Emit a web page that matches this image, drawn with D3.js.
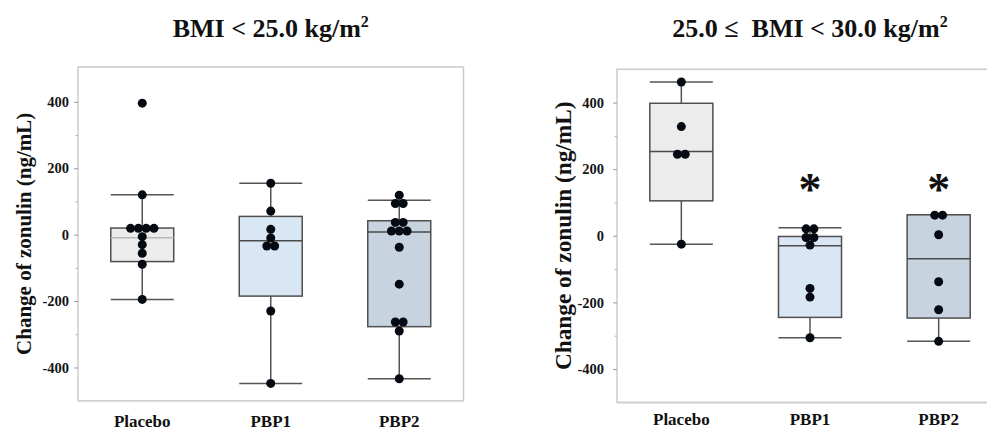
<!DOCTYPE html>
<html><head><meta charset="utf-8">
<script src="https://cdn.jsdelivr.net/npm/d3@7"></script>
<style>
body{margin:0;background:#fff;}
svg{display:block;}
text{font-family:'Liberation Serif','Times New Roman',serif;font-weight:bold;fill:#111;}
</style>
</head><body>
<svg id="c" width="987" height="430"></svg>
<script>
// ---------- data ----------
const categories = ["Placebo", "PBP1", "PBP2"];
const titleMain = ["BMI < 25.0 kg/m", "25.0 \u2264  BMI < 30.0 kg/m"];
const titleSup = ["2", "2"];
const yLabel = "Change of zonulin (ng/mL)";
const yTicks = [-400, -200, 0, 200, 400];
const yTickLabels = ["-400", "-200", "0", "200", "400"];
const yMinorTicks = [-300, -100, 100, 300];

// Panel 1: BMI < 25.0
const p1Points = [
  [396, 120, 19, 19, 19, 19, -6, -30, -56, -89, -195],
  [155, 71, 16, -10, -34, -34, -230, -448],
  [119, 94, 94, 37, 37, 11, 11, 11, -38, -149, -263, -263, -290, -434]
];
const p1WhiskerLow  = [-195, -448, -434];
const p1Q1          = [-81, -185, -277];
const p1Median      = [-9, -18, 8];
const p1Q3          = [20, 55, 42];
const p1WhiskerHigh = [120, 155, 104];
const p1Marks       = ["", "", ""];

// Panel 2: 25.0 <= BMI < 30.0
const p2Points = [
  [462, 328, 245, 245, -25],
  [21, 21, -5, -5, -28, -158, -184, -306],
  [62, 62, 3, -138, -222, -317]
];
const p2WhiskerLow  = [-25, -306, -317];
const p2Q1          = [105, -245, -247];
const p2Median      = [253, -30, -69];
const p2Q3          = [398, -2, 63];
const p2WhiskerHigh = [462, 24, 63];
const p2Marks       = ["", "*", "*"];

// ---------- styles ----------
const boxFill = ["#ececec", "#d9e6f4", "#c7d4df"];
const medianColor = [["#b8b8b8", "#4a4a4a", "#4a4a4a"], ["#4a4a4a", "#4a4a4a", "#4a4a4a"]];

const panels = [
  {left: 78, right: 463.5, top: 67, bottom: 400.7, domain: [-500, 505], titleY: 37, labelX: 24, labelSize: 21, tickGap: 9, catY: 427,
   points: p1Points, wl: p1WhiskerLow, q1: p1Q1, med: p1Median, q3: p1Q3, wh: p1WhiskerHigh, marks: p1Marks},
  {left: 617, right: 1003, top: 69.3, bottom: 402.3, domain: [-500, 500], titleY: 37, labelX: 563, labelSize: 23.3, tickGap: 13, catY: 424.5,
   points: p2Points, wl: p2WhiskerLow, q1: p2Q1, med: p2Median, q3: p2Q3, wh: p2WhiskerHigh, marks: p2Marks}
];

const svg = d3.select("#c");

panels.forEach((P, pi) => {
  const g = svg.append("g");
  const x = d3.scaleBand().domain(categories).range([P.left, P.right]).paddingInner(0).paddingOuter(0);
  const y = d3.scaleLinear().domain(P.domain).range([P.bottom, P.top]);
  const bw = x.bandwidth() * 0.49;
  const cx = c => x(c) + x.bandwidth() / 2;

  // frame
  g.append("rect").attr("x", P.left).attr("y", P.top)
    .attr("width", P.right - P.left).attr("height", P.bottom - P.top)
    .attr("fill", "none").attr("stroke", "#cbcbcb").attr("stroke-width", 1.5);
  g.append("line").attr("x1", P.left).attr("x2", P.right).attr("y1", P.bottom + 1).attr("y2", P.bottom + 1)
    .attr("stroke", "#e4e4e4").attr("stroke-width", 1.2);

  // y axis
  const axis = d3.axisLeft(y).tickValues(yTicks).tickSize(4).tickPadding(P.tickGap - 4)
    .tickFormat((d, i) => yTickLabels[i]);
  const ag = g.append("g").attr("transform", `translate(${P.left},0)`).call(axis);
  ag.select(".domain").remove();
  ag.selectAll(".tick line").attr("stroke", "#9a9a9a");
  ag.selectAll(".tick text").style("font-size", "14.5px").style("font-family", "'Liberation Serif',serif")
    .style("font-weight", "bold").style("fill", "#151515");
  const minor = d3.axisLeft(y).tickValues(yMinorTicks).tickSize(2.5).tickFormat("");
  const mg = g.append("g").attr("transform", `translate(${P.left},0)`).call(minor);
  mg.select(".domain").remove();
  mg.selectAll(".tick line").attr("stroke", "#b0b0b0");

  // y label
  g.append("text").attr("transform", `translate(${P.labelX},${(P.top + P.bottom) / 2}) rotate(-90)`)
    .attr("text-anchor", "middle").attr("dy", "0.35em").attr("font-size", P.labelSize).text(yLabel);

  // title
  const t = g.append("text").attr("x", (P.left + P.right) / 2).attr("y", P.titleY)
    .attr("text-anchor", "middle").attr("font-size", 26).style("white-space", "pre");
  t.append("tspan").text(titleMain[pi]);
  t.append("tspan").attr("font-size", 16).attr("dy", -10).text(titleSup[pi]);

  // categories
  g.selectAll(".cat").data(categories).join("text")
    .attr("x", d => cx(d)).attr("y", P.catY).attr("text-anchor", "middle").attr("font-size", 17).text(d => d);

  categories.forEach((c, i) => {
    const xc = cx(c);
    g.append("line").attr("x1", xc).attr("x2", xc).attr("y1", y(P.wl[i])).attr("y2", y(P.wh[i]))
      .attr("stroke", "#555").attr("stroke-width", 1.5);
    [P.wl[i], P.wh[i]].forEach(v => {
      g.append("line").attr("x1", xc - bw / 2).attr("x2", xc + bw / 2).attr("y1", y(v)).attr("y2", y(v))
        .attr("stroke", "#555").attr("stroke-width", 1.5);
    });
    g.append("rect").attr("x", xc - bw / 2).attr("width", bw)
      .attr("y", y(P.q3[i])).attr("height", y(P.q1[i]) - y(P.q3[i]))
      .attr("fill", boxFill[i]).attr("stroke", "#4f4f4f").attr("stroke-width", 1.5);
    g.append("line").attr("x1", xc - bw / 2).attr("x2", xc + bw / 2).attr("y1", y(P.med[i])).attr("y2", y(P.med[i]))
      .attr("stroke", medianColor[pi][i]).attr("stroke-width", 1.5);

    // points: tied values spread side by side
    const counts = d3.rollup(P.points[i], v => v.length, d => d);
    const seen = new Map();
    const pts = P.points[i].map(v => {
      const k = seen.get(v) || 0; seen.set(v, k + 1);
      const n = counts.get(v);
      return {v, off: (k - (n - 1) / 2) * 7.8};
    });
    g.selectAll(null).data(pts).join("circle")
      .attr("cx", d => xc + d.off).attr("cy", d => y(d.v)).attr("r", 4.5).attr("fill", "#050a12");

    if (P.marks[i]) {
      g.append("text").attr("x", xc).attr("y", y(155) + 21).attr("text-anchor", "middle")
        .attr("font-size", 46).text(P.marks[i]);
    }
  });
});
</script>
</body></html>
